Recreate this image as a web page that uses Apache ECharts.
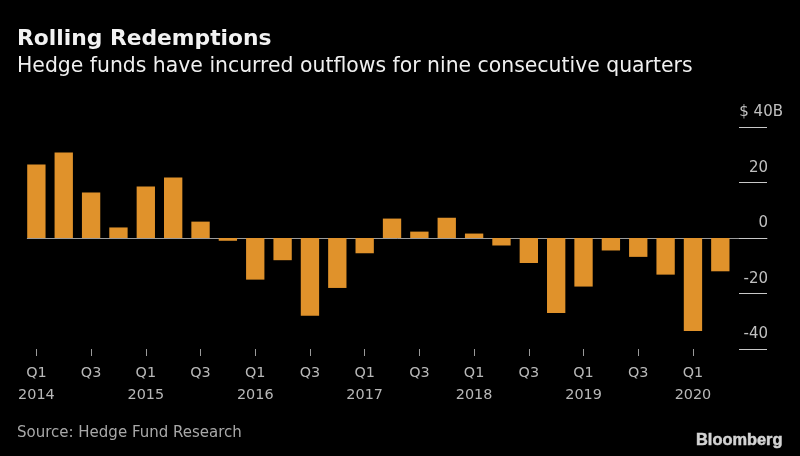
<!DOCTYPE html>
<html>
<head>
<meta charset="utf-8">
<style>
  html, body { margin: 0; padding: 0; background: #000; }
  #chart { width: 800px; height: 456px; }
</style>
<script src="https://cdn.jsdelivr.net/npm/echarts@6/dist/echarts.min.js"></script>
</head>
<body>
<div id="chart"></div>
<script>
// Quarterly flows, $B
var quarters = ['Q1\n2014', 'Q2', 'Q3', 'Q4', 'Q1\n2015', 'Q2', 'Q3', 'Q4',
  'Q1\n2016', 'Q2', 'Q3', 'Q4', 'Q1\n2017', 'Q2', 'Q3', 'Q4',
  'Q1\n2018', 'Q2', 'Q3', 'Q4', 'Q1\n2019', 'Q2', 'Q3', 'Q4',
  'Q1\n2020', 'Q2'];
var flows = [26.5, 30.8, 16.4, 3.8, 18.6, 21.8, 5.9, -1,
  -15, -8, -28, -18, -5.5, 7, 2.3, 7.3,
  1.6, -2.7, -9, -27, -17.5, -4.5, -6.8, -13.2,
  -33.5, -12];
var yTickLabels = { '40': '$ 40B', '20': '20', '0': '0', '-20': '-20', '-40': '-40' };

var chart = echarts.init(document.getElementById('chart'), null, {renderer: 'canvas'});

var font = '"DejaVu Sans", sans-serif';

chart.setOption({
  backgroundColor: '#000',
  animation: false,
  title: [
    { text: 'Rolling Redemptions', left: 12, top: 23,
      textStyle: { color: '#f2f2f2', fontFamily: font, fontWeight: 'bold', fontSize: 21.8 } },
    { text: 'Hedge funds have incurred outflows for nine consecutive quarters', left: 12, top: 52,
      textStyle: { color: '#f0f0f0', fontFamily: font, fontWeight: 'normal', fontSize: 20.4 } },
    { text: 'Source: Hedge Fund Research', left: 12, top: 421,
      textStyle: { color: '#a8a8a8', fontFamily: font, fontWeight: 'normal', fontSize: 15 } },
    { text: 'Bloomberg', right: 12, top: 427,
      textStyle: { color: '#d4d4d4', fontFamily: '"Liberation Sans", sans-serif', fontWeight: 'bold', fontSize: 16.4,
        textBorderColor: '#d4d4d4', textBorderWidth: 0.5 } }
  ],
  grid: [
    { left: 22.7, right: 66, top: 127, bottom: 107 },
    // second grid only carries the zero rule, it runs wider than the bars
    { left: 27.3, right: 33, top: 127, bottom: 107 }
  ],
  xAxis: [
    {
      // bottom ticks and labels
      type: 'category',
      gridIndex: 0,
      position: 'bottom',
      data: quarters,
      axisLine: { show: false, onZero: false },
      axisTick: { show: true, alignWithLabel: true, interval: 1, length: 7,
        lineStyle: { color: '#9a9a9a' } },
      axisLabel: { interval: 1, color: '#b8b8b8', fontFamily: font, fontSize: 14.4,
        lineHeight: 22, margin: 13.5 }
    },
    {
      // zero rule
      type: 'value',
      gridIndex: 1,
      min: 0,
      max: 1,
      splitLine: { show: false },
      axisLine: { show: true, onZero: true, lineStyle: { color: '#9a9a9a', width: 1 } },
      axisTick: { show: false },
      axisLabel: { show: false }
    }
  ],
  yAxis: [
    {
      type: 'value',
      gridIndex: 0,
      position: 'right',
      offset: 5,
      min: -40,
      max: 40,
      interval: 20,
      splitLine: { show: false },
      axisLine: { show: false },
      axisTick: { show: true, length: 28, lineStyle: { color: '#c8c8c8', width: 1 } },
      axisLabel: {
        margin: 44,
        align: 'right',
        verticalAlign: 'bottom',
        padding: [0, 0, 7, 0],
        color: '#c0c0c0',
        fontFamily: font,
        fontSize: 15,
        formatter: function (v) {
          var label = yTickLabels[String(v)];
          return v === 40 ? label : '{low|' + label + '}';
        },
        rich: {
          low: { color: '#c0c0c0', fontFamily: font, fontSize: 15, padding: [0, 15, 0, 0] }
        }
      }
    },
    {
      type: 'value',
      gridIndex: 1,
      min: -40,
      max: 40,
      interval: 20,
      show: false
    }
  ],
  series: [{
    type: 'bar',
    xAxisIndex: 0,
    yAxisIndex: 0,
    data: flows,
    barWidth: '67%',
    itemStyle: { color: '#e0922b' }
  }]
});
</script>
</body>
</html>
